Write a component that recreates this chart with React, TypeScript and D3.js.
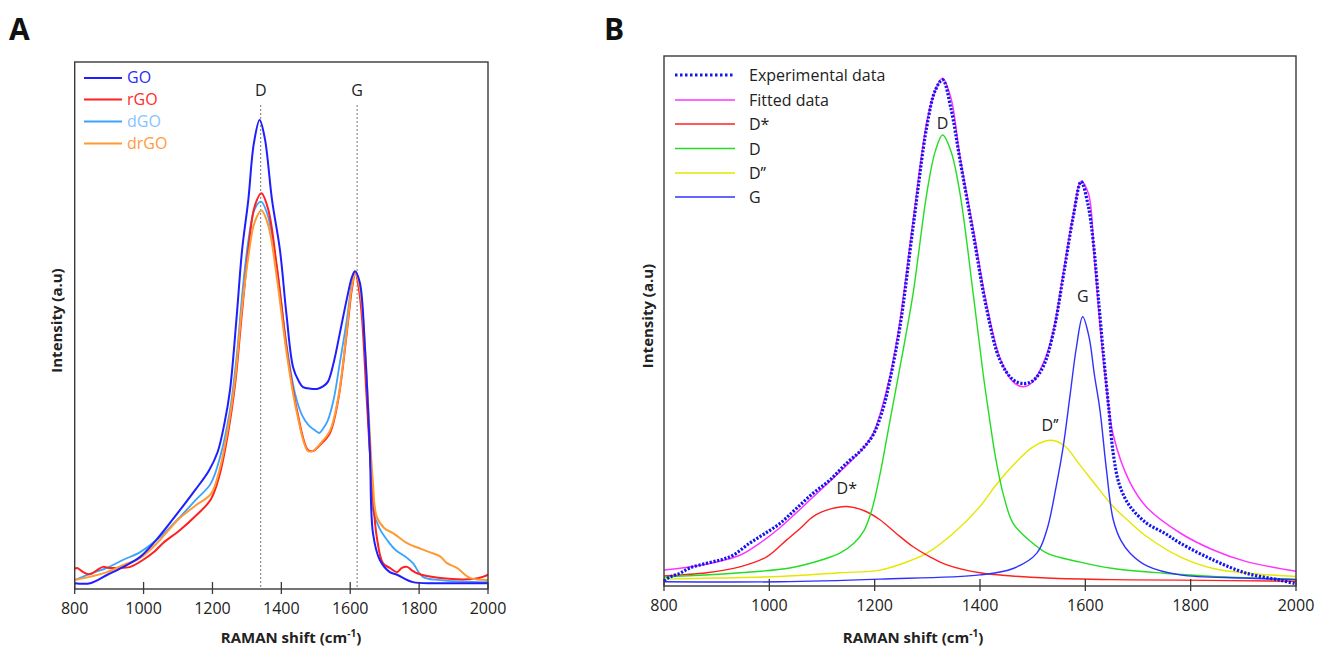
import React from 'react';
import * as d3 from 'd3';

// ---------- shared ----------
const xTicks = [800, 1000, 1200, 1400, 1600, 1800, 2000];
const xDomain: [number, number] = [800, 2000];

// ---------- Panel A data (x: Raman shift, y: normalised intensity) ----------
const goData: [number, number][] = [
  [800, 0.011], [845, 0.011], [895, 0.027], [950, 0.045], [990, 0.061], [1030, 0.088], [1070, 0.12],
  [1106, 0.15], [1150, 0.188], [1190, 0.225], [1215, 0.26], [1235, 0.315], [1251, 0.378], [1270, 0.515], [1286, 0.643],
  [1304, 0.738], [1320, 0.845], [1337, 0.89], [1352, 0.855], [1373, 0.738], [1396, 0.643], [1415, 0.52],
  [1434, 0.421], [1450, 0.395], [1463, 0.383], [1485, 0.38], [1506, 0.38], [1522, 0.385], [1535, 0.393],
  [1552, 0.43], [1570, 0.486], [1590, 0.55], [1605, 0.592], [1614, 0.603], [1628, 0.581], [1643, 0.454],
  [1657, 0.264], [1666, 0.106], [1686, 0.055], [1715, 0.032], [1736, 0.027], [1782, 0.013], [1861, 0.011],
  [2000, 0.011],
];
const rgoData: [number, number][] = [
  [800, 0.038], [807, 0.04], [825, 0.032], [844, 0.028], [865, 0.036], [882, 0.042], [900, 0.04],
  [923, 0.04], [961, 0.042], [998, 0.055], [1030, 0.07], [1056, 0.087], [1106, 0.112], [1150, 0.138],
  [1195, 0.17], [1220, 0.215], [1245, 0.295], [1266, 0.39], [1285, 0.52], [1304, 0.643], [1322, 0.725],
  [1342, 0.751], [1362, 0.72], [1387, 0.611], [1416, 0.453], [1445, 0.34], [1477, 0.264], [1492, 0.262],
  [1512, 0.273], [1541, 0.296], [1565, 0.359], [1590, 0.486], [1605, 0.57], [1615, 0.6], [1625, 0.57],
  [1634, 0.516], [1648, 0.359], [1663, 0.2], [1677, 0.099], [1695, 0.049], [1715, 0.04], [1736, 0.032],
  [1750, 0.04], [1765, 0.042], [1780, 0.035], [1794, 0.03], [1861, 0.021], [1957, 0.019], [1985, 0.023],
  [2000, 0.027],
];
const dgoData: [number, number][] = [
  [800, 0.017], [850, 0.03], [894, 0.04], [940, 0.055], [990, 0.07], [1050, 0.1], [1106, 0.137],
  [1150, 0.168], [1195, 0.2], [1222, 0.25], [1251, 0.34], [1270, 0.44], [1288, 0.57], [1304, 0.66],
  [1322, 0.72], [1341, 0.735], [1360, 0.71], [1387, 0.61], [1416, 0.46], [1440, 0.37], [1460, 0.33],
  [1480, 0.31], [1500, 0.3], [1510, 0.296], [1520, 0.303], [1535, 0.32], [1552, 0.36], [1570, 0.43],
  [1590, 0.51], [1605, 0.58], [1615, 0.6], [1628, 0.57], [1640, 0.48], [1652, 0.33], [1660, 0.22],
  [1666, 0.15], [1685, 0.115], [1707, 0.093], [1730, 0.075], [1765, 0.059], [1782, 0.049], [1811, 0.023],
  [1861, 0.017], [2000, 0.013],
];
const drgoData: [number, number][] = [
  [800, 0.017], [850, 0.024], [894, 0.032], [940, 0.045], [990, 0.059], [1039, 0.087], [1070, 0.11],
  [1106, 0.135], [1150, 0.158], [1195, 0.18], [1220, 0.225], [1245, 0.305], [1266, 0.4], [1285, 0.53],
  [1304, 0.63], [1322, 0.695], [1342, 0.718], [1362, 0.69], [1387, 0.59], [1416, 0.445], [1445, 0.335],
  [1477, 0.262], [1492, 0.262], [1512, 0.275], [1541, 0.3], [1565, 0.362], [1590, 0.49], [1605, 0.575],
  [1616, 0.6], [1628, 0.57], [1640, 0.49], [1652, 0.35], [1665, 0.21], [1677, 0.137], [1700, 0.115],
  [1724, 0.106], [1765, 0.087], [1782, 0.082], [1830, 0.07], [1861, 0.062], [1881, 0.049], [1910, 0.04],
  [1948, 0.021], [2000, 0.017],
];
const seriesNamesA = ['GO', 'rGO', 'dGO', 'drGO'];
const peakLinesA = [{ label: 'D', x: 1340 }, { label: 'G', x: 1620 }];

// ---------- Panel B data ----------
const expData: [number, number][] = [
  [800, 0.01], [811, 0.017], [830, 0.024], [849, 0.034], [881, 0.043], [910, 0.05], [931, 0.058],
  [963, 0.081], [990, 0.098], [1020, 0.118], [1050, 0.145], [1083, 0.175], [1115, 0.2], [1147, 0.232],
  [1175, 0.257], [1197, 0.285], [1216, 0.335], [1229, 0.389], [1248, 0.489], [1273, 0.678], [1299, 0.867],
  [1315, 0.935], [1329, 0.955], [1345, 0.9], [1362, 0.804], [1387, 0.665], [1413, 0.521], [1438, 0.426],
  [1463, 0.389], [1482, 0.382], [1500, 0.387], [1520, 0.414], [1539, 0.477], [1558, 0.584], [1577, 0.697],
  [1592, 0.763], [1605, 0.72], [1615, 0.65], [1625, 0.54], [1635, 0.43], [1645, 0.33], [1653, 0.25],
  [1665, 0.19], [1685, 0.15], [1717, 0.118], [1750, 0.1], [1780, 0.081], [1843, 0.049], [1906, 0.024],
  [1970, 0.011], [2000, 0.004],
];
const fitData: [number, number][] = [
  [800, 0.03], [875, 0.04], [944, 0.058], [982, 0.081], [1020, 0.11], [1083, 0.168], [1147, 0.228],
  [1180, 0.262], [1197, 0.287], [1212, 0.33], [1230, 0.4], [1248, 0.5], [1273, 0.69], [1299, 0.875],
  [1315, 0.935], [1329, 0.958], [1345, 0.92], [1362, 0.81], [1387, 0.675], [1413, 0.53], [1438, 0.43],
  [1463, 0.385], [1482, 0.376], [1500, 0.385], [1520, 0.42], [1539, 0.48], [1558, 0.59], [1577, 0.7],
  [1592, 0.763], [1606, 0.74], [1617, 0.62], [1628, 0.49], [1640, 0.375], [1653, 0.285], [1685, 0.195],
  [1717, 0.148], [1780, 0.1], [1843, 0.068], [1906, 0.046], [2000, 0.028],
];
const dStarData: [number, number][] = [
  [800, 0.019], [881, 0.025], [944, 0.036], [995, 0.055], [1033, 0.087], [1060, 0.11], [1083, 0.131],
  [1115, 0.145], [1147, 0.15], [1180, 0.142], [1210, 0.125], [1240, 0.1], [1273, 0.074], [1305, 0.055],
  [1337, 0.04], [1400, 0.025], [1460, 0.019], [1527, 0.015], [1650, 0.012], [1780, 0.011], [2000, 0.009],
];
const dCompData: [number, number][] = [
  [800, 0.017], [944, 0.025], [1039, 0.034], [1102, 0.05], [1134, 0.062], [1160, 0.08], [1180, 0.105],
  [1195, 0.145], [1210, 0.21], [1225, 0.29], [1240, 0.37], [1255, 0.45], [1273, 0.552], [1299, 0.741],
  [1315, 0.82], [1329, 0.851], [1345, 0.82], [1362, 0.741], [1387, 0.552], [1406, 0.4], [1416, 0.33],
  [1430, 0.24], [1445, 0.17], [1463, 0.118], [1495, 0.085], [1527, 0.062], [1590, 0.045], [1653, 0.033],
  [1750, 0.024], [1843, 0.018], [2000, 0.013],
];
const d2CompData: [number, number][] = [
  [800, 0.013], [900, 0.015], [1020, 0.018], [1134, 0.025], [1210, 0.03], [1260, 0.045], [1299, 0.062],
  [1350, 0.1], [1400, 0.15], [1430, 0.19], [1463, 0.228], [1500, 0.262], [1533, 0.275], [1560, 0.265],
  [1590, 0.228], [1620, 0.19], [1653, 0.15], [1685, 0.12], [1717, 0.093], [1780, 0.055], [1843, 0.033],
  [1920, 0.023], [2000, 0.018],
];
const gCompData: [number, number][] = [
  [800, 0.008], [1020, 0.008], [1210, 0.013], [1400, 0.021], [1463, 0.033], [1508, 0.062], [1527, 0.106],
  [1545, 0.19], [1558, 0.263], [1571, 0.36], [1583, 0.45], [1595, 0.508], [1607, 0.47], [1617, 0.4],
  [1628, 0.33], [1640, 0.22], [1653, 0.125], [1668, 0.085], [1685, 0.062], [1717, 0.038], [1780, 0.021],
  [1900, 0.015], [2000, 0.012],
];
const seriesNamesB = ['Experimental data', 'Fitted data', 'D*', 'D', 'D\u2019\u2019', 'G'];
const peakLabelsB: { label: string; x: number; y: number }[] = [
  { label: 'D', x: 1329, y: 0.863 },
  { label: 'G', x: 1595, y: 0.535 },
  { label: 'D*', x: 1147, y: 0.174 },
  { label: 'D\u2019\u2019', x: 1533, y: 0.292 },
];

const FONT = "'Open Sans', 'DejaVu Sans', sans-serif";

type Series = { data: [number, number][]; color: string; width: number; dash?: string };

function Frame({ x, y, title, titleX, ylabelX, xlabelX }: any) {
  const [x0, x1] = x.range();
  const [y0, y1] = y.range(); // y0 bottom, y1 top
  return (
    <g>
      <rect x={x0} y={y1} width={x1 - x0} height={y0 - y1} fill="none" stroke="#3a3a3a" strokeWidth={1.4} />
      {xTicks.map((t) => (
        <g key={t}>
          <line x1={x(t)} x2={x(t)} y1={y0 - 7} y2={y0 + 5} stroke="#3a3a3a" strokeWidth={1.3} />
          <text x={x(t)} y={y0 + 25} textAnchor="middle" fontSize={16} fontFamily={FONT} fill="#222">
            {t}
          </text>
        </g>
      ))}
      <text x={xlabelX} y={643} textAnchor="middle" fontSize={15} fontWeight="bold" fontFamily={FONT} fill="#222">
        RAMAN shift (cm<tspan dy={-6} fontSize={10}>-1</tspan>
        <tspan dy={6}>)</tspan>
      </text>
      <text
        transform={`translate(${ylabelX},${(y0 + y1) / 2 - 5}) rotate(-90)`}
        textAnchor="middle"
        fontSize={15}
        fontWeight="bold"
        fontFamily={FONT}
        fill="#222"
      >
        Intensity (a.u)
      </text>
      <text x={titleX} y={40} fontSize={30} fontWeight="bold" fontFamily={FONT} fill="#111">
        {title}
      </text>
    </g>
  );
}

export default function App() {
  const xA = d3.scaleLinear().domain(xDomain).range([74.7, 488]);
  const yA = d3.scaleLinear().domain([0, 1]).range([589, 62]);
  const xB = d3.scaleLinear().domain(xDomain).range([664, 1296]);
  const yB = d3.scaleLinear().domain([0, 1]).range([586, 56]);

  const lineA = d3
    .line<[number, number]>()
    .x((d) => xA(d[0]))
    .y((d) => yA(d[1]))
    .curve(d3.curveCatmullRom.alpha(0.5));
  const lineB = d3
    .line<[number, number]>()
    .x((d) => xB(d[0]))
    .y((d) => yB(d[1]))
    .curve(d3.curveCatmullRom.alpha(0.5));

  const colorsA = ['#1e1eff', '#ff2020', '#3aa2ff', '#ff9a33'];
  const legendTextA = ['#2a2aff', '#ff2a2a', '#86c4ff', '#ff9a40'];
  const seriesA: Series[] = [
    { data: dgoData, color: colorsA[2], width: 1.8 },
    { data: rgoData, color: colorsA[1], width: 2 },
    { data: drgoData, color: colorsA[3], width: 2 },
    { data: goData, color: colorsA[0], width: 2 },
  ];

  const colorsB = ['#1414f0', '#ff33ff', '#ff2020', '#22dd22', '#e6e600', '#3030ff'];
  const seriesB: Series[] = [
    { data: d2CompData, color: colorsB[4], width: 1.4 },
    { data: dStarData, color: colorsB[2], width: 1.4 },
    { data: dCompData, color: colorsB[3], width: 1.4 },
    { data: gCompData, color: colorsB[5], width: 1.4 },
    { data: fitData, color: colorsB[1], width: 1.5 },
    { data: expData, color: colorsB[0], width: 3.2, dash: '2.2 1.6' },
  ];

  const legendYA = [78, 99.5, 121.5, 143.5];
  const legendYB = [75, 100, 124, 148.5, 173, 197];

  return (
    <svg
      width={1319}
      height={650}
      style={{ position: 'absolute', left: 0, top: 0, display: 'block', background: '#fff' }}
    >
      <rect x={0} y={0} width={1319} height={650} fill="#fff" />
      {/* Panel A */}
      <g>
        {peakLinesA.map((p) => (
          <g key={p.label}>
            <line
              x1={xA(p.x)}
              x2={xA(p.x)}
              y1={105}
              y2={yA(0)}
              stroke="#777"
              strokeWidth={1}
              strokeDasharray="2 2"
            />
            <text x={xA(p.x)} y={96} textAnchor="middle" fontSize={16} fontFamily={FONT} fill="#222">
              {p.label}
            </text>
          </g>
        ))}
        {seriesA.map((s, i) => (
          <path key={i} d={lineA(s.data) || ''} fill="none" stroke={s.color} strokeWidth={s.width} strokeLinejoin="round" />
        ))}
        {seriesNamesA.map((n, i) => (
          <g key={n}>
            <line x1={84} x2={122} y1={legendYA[i]} y2={legendYA[i]} stroke={colorsA[i]} strokeWidth={2} />
            <text x={127} y={legendYA[i] + 5} fontSize={16} fontFamily={FONT} fill={legendTextA[i]}>
              {n}
            </text>
          </g>
        ))}
        <Frame x={xA} y={yA} title="A" titleX={9} ylabelX={62} xlabelX={291} />
      </g>

      {/* Panel B */}
      <g>
        {seriesB.map((s, i) => (
          <path
            key={i}
            d={lineB(s.data) || ''}
            fill="none"
            stroke={s.color}
            strokeWidth={s.width}
            strokeDasharray={s.dash}
            strokeLinejoin="round"
          />
        ))}
        {peakLabelsB.map((p) => (
          <text key={p.label} x={xB(p.x)} y={yB(p.y)} textAnchor="middle" fontSize={16} fontFamily={FONT} fill="#222">
            {p.label}
          </text>
        ))}
        {seriesNamesB.map((n, i) => (
          <g key={n}>
            <line
              x1={675}
              x2={735}
              y1={legendYB[i]}
              y2={legendYB[i]}
              stroke={colorsB[i]}
              strokeWidth={i === 0 ? 3.2 : 1.6}
              strokeDasharray={i === 0 ? '2.5 2.5' : undefined}
            />
            <text x={749} y={legendYB[i] + 6} fontSize={16} fontFamily={FONT} fill="#222">
              {n}
            </text>
          </g>
        ))}
        <Frame x={xB} y={yB} title="B" titleX={604} ylabelX={653} xlabelX={913} />
      </g>
    </svg>
  );
}
